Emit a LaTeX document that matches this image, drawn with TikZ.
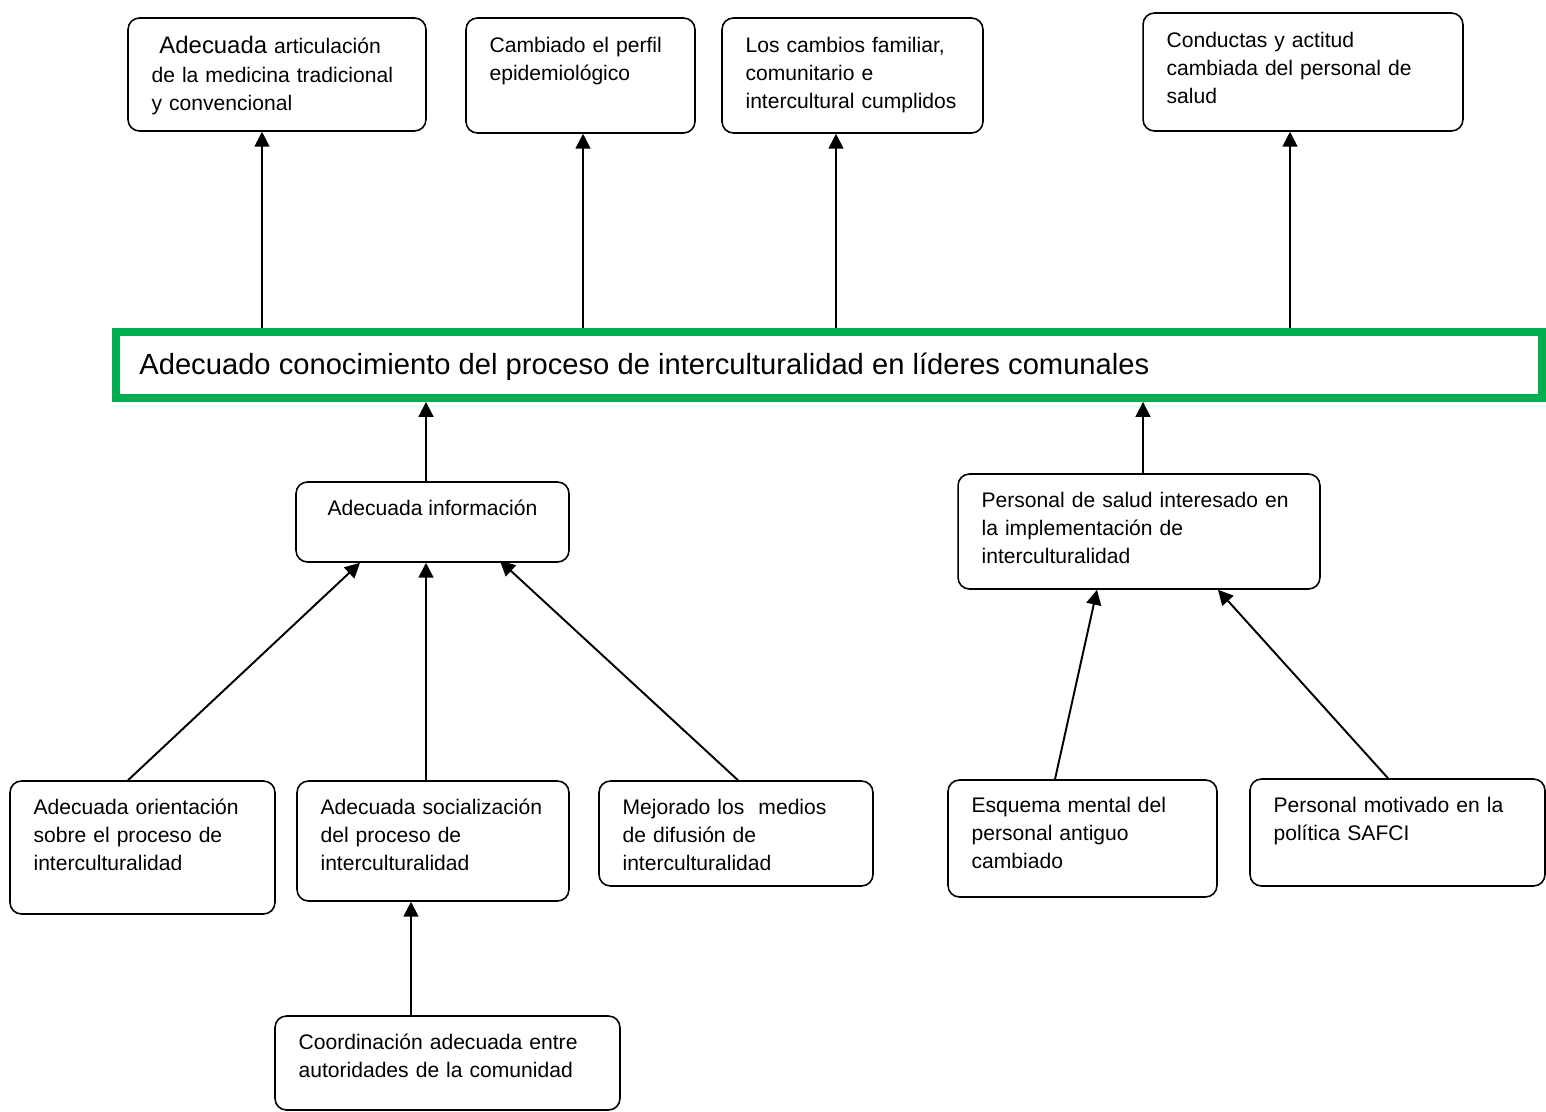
\documentclass[tikz,border=0pt]{standalone}
\usepackage{fontspec}
\setmainfont{Liberation Sans}
\usetikzlibrary{arrows.meta}
\definecolor{verde}{HTML}{00B050}

\begin{document}
\begin{tikzpicture}[x=0.02cm, y=-0.02cm,
		caja/.style={draw, rounded corners=6.5pt, line width=0.9pt, inner sep=0pt},
		texto/.style={anchor=base west, inner sep=0pt, text width=8cm, align=left, font=\fontsize{12}{15.9}\selectfont},
		flecha/.style={line width=1.1pt, -{Triangle[width=8.5pt, length=8.5pt]}}]
		\useasboundingbox (0, 0) rectangle (1546, 1112);

		% efectos
		\node[caja, minimum width=5.96cm, minimum height=2.26cm] (t1) at (277, 74.5) {};
		\node[texto] (t1txt) at ([shift={(24, 36)}]t1.north west) {\hspace*{4.5pt}{\fontsize{13.6}{15.9}\selectfont Adecuada} articulación\\[1pt] de la medicina tradicional\\ y convencional};
		\node[caja, minimum width=4.58cm, minimum height=2.3cm] (t2) at (580.5, 75.5) {};
		\node[texto] (t2txt) at ([shift={(24, 35)}]t2.north west) {Cambiado el perfil\\ epidemiológico};
		\node[caja, minimum width=5.22cm, minimum height=2.3cm] (t3) at (852.5, 75.5) {};
		\node[texto] (t3txt) at ([shift={(24, 35)}]t3.north west) {Los cambios familiar,\\ comunitario e\\ intercultural cumplidos};
		\node[caja, minimum width=6.4cm, minimum height=2.36cm] (t4) at (1303, 72) {};
		\node[texto] (t4txt) at ([shift={(24, 35)}]t4.north west) {Conductas y actitud\\ cambiada del personal de\\ salud};

		% problema central
		\node[draw=verde, line width=4.5pt, minimum width=28.53cm, minimum height=1.32cm, inner sep=0pt] (bar) at (828.75, 365) {};
		\node[anchor=base west, inner sep=0pt, font=\fontsize{16.6}{20}\selectfont] (bartxt) at (139, 374) {Adecuado conocimiento del proceso de interculturalidad en líderes comunales};

		% medios
		\node[caja, minimum width=5.46cm, minimum height=1.6cm] (info) at (432.5, 522) {};
		\node[anchor=base, inner sep=0pt, font=\fontsize{12}{15.9}\selectfont] (infotxt) at ([shift={(0, 34)}]info.north) {Adecuada información};
		\node[caja, minimum width=7.24cm, minimum height=2.3cm] (pers) at (1139, 531.5) {};
		\node[texto] (perstxt) at ([shift={(24, 34)}]pers.north west) {Personal de salud interesado en\\ la implementación de\\ interculturalidad};

		\node[caja, minimum width=5.3cm, minimum height=2.66cm] (b1) at (142.5, 847.5) {};
		\node[texto] (b1txt) at ([shift={(24, 34)}]b1.north west) {Adecuada orientación\\ sobre el proceso de\\ interculturalidad};
		\node[caja, minimum width=5.44cm, minimum height=2.4cm] (b2) at (433, 841) {};
		\node[texto] (b2txt) at ([shift={(24, 34)}]b2.north west) {Adecuada socialización\\ del proceso de\\ interculturalidad};
		\node[caja, minimum width=5.48cm, minimum height=2.1cm] (b3) at (736, 833.5) {};
		\node[texto] (b3txt) at ([shift={(24, 34)}]b3.north west) {Mejorado los \ medios\\ de difusión de\\ interculturalidad};
		\node[caja, minimum width=5.38cm, minimum height=2.34cm] (b4) at (1082.5, 838.5) {};
		\node[texto] (b4txt) at ([shift={(24, 33)}]b4.north west) {Esquema mental del\\ personal antiguo\\ cambiado};
		\node[caja, minimum width=5.9cm, minimum height=2.14cm] (b5) at (1397.5, 832.5) {};
		\node[texto] (b5txt) at ([shift={(24, 34)}]b5.north west) {Personal motivado en la\\ política SAFCI};
		\node[caja, minimum width=6.9cm, minimum height=1.88cm] (b6) at (447.5, 1063) {};
		\node[texto] (b6txt) at ([shift={(24, 34)}]b6.north west) {Coordinación adecuada entre\\ autoridades de la comunidad};

		% flechas
		\draw[flecha] ([xshift=-0.3cm]t1.south |- bar.north) -- ([xshift=-0.3cm]t1.south);
		\draw[flecha] ([xshift=0.05cm]t2.south |- bar.north) -- ([xshift=0.05cm]t2.south);
		\draw[flecha] ([xshift=-0.33cm]t3.south |- bar.north) -- ([xshift=-0.33cm]t3.south);
		\draw[flecha] ([xshift=-0.26cm]t4.south |- bar.north) -- ([xshift=-0.26cm]t4.south);
		\draw[flecha] ([xshift=-0.13cm]info.north) -- ([xshift=-0.13cm]info.north |- bar.south);
		\draw[flecha] ([xshift=0.08cm]pers.north) -- ([xshift=0.08cm]pers.north |- bar.south);
		\draw[flecha] ([xshift=-0.29cm]b1.north) -- ([xshift=-1.45cm]info.south);
		\draw[flecha] ([xshift=-0.14cm]b2.north) -- ([xshift=-0.14cm]b2.north |- info.south);
		\draw[flecha] ([xshift=0.04cm]b3.north) -- ([xshift=1.35cm, yshift=0.04cm]info.south);
		\draw[flecha] ([xshift=-0.73cm]b6.north) -- ([xshift=-0.73cm]b6.north |- b2.south);
		\draw[flecha] ([xshift=-0.55cm]b4.north) -- ([xshift=-0.84cm]pers.south);
		\draw[flecha] ([xshift=-0.19cm]b5.north) -- ([xshift=1.58cm]pers.south);
	\end{tikzpicture}
\end{document}
